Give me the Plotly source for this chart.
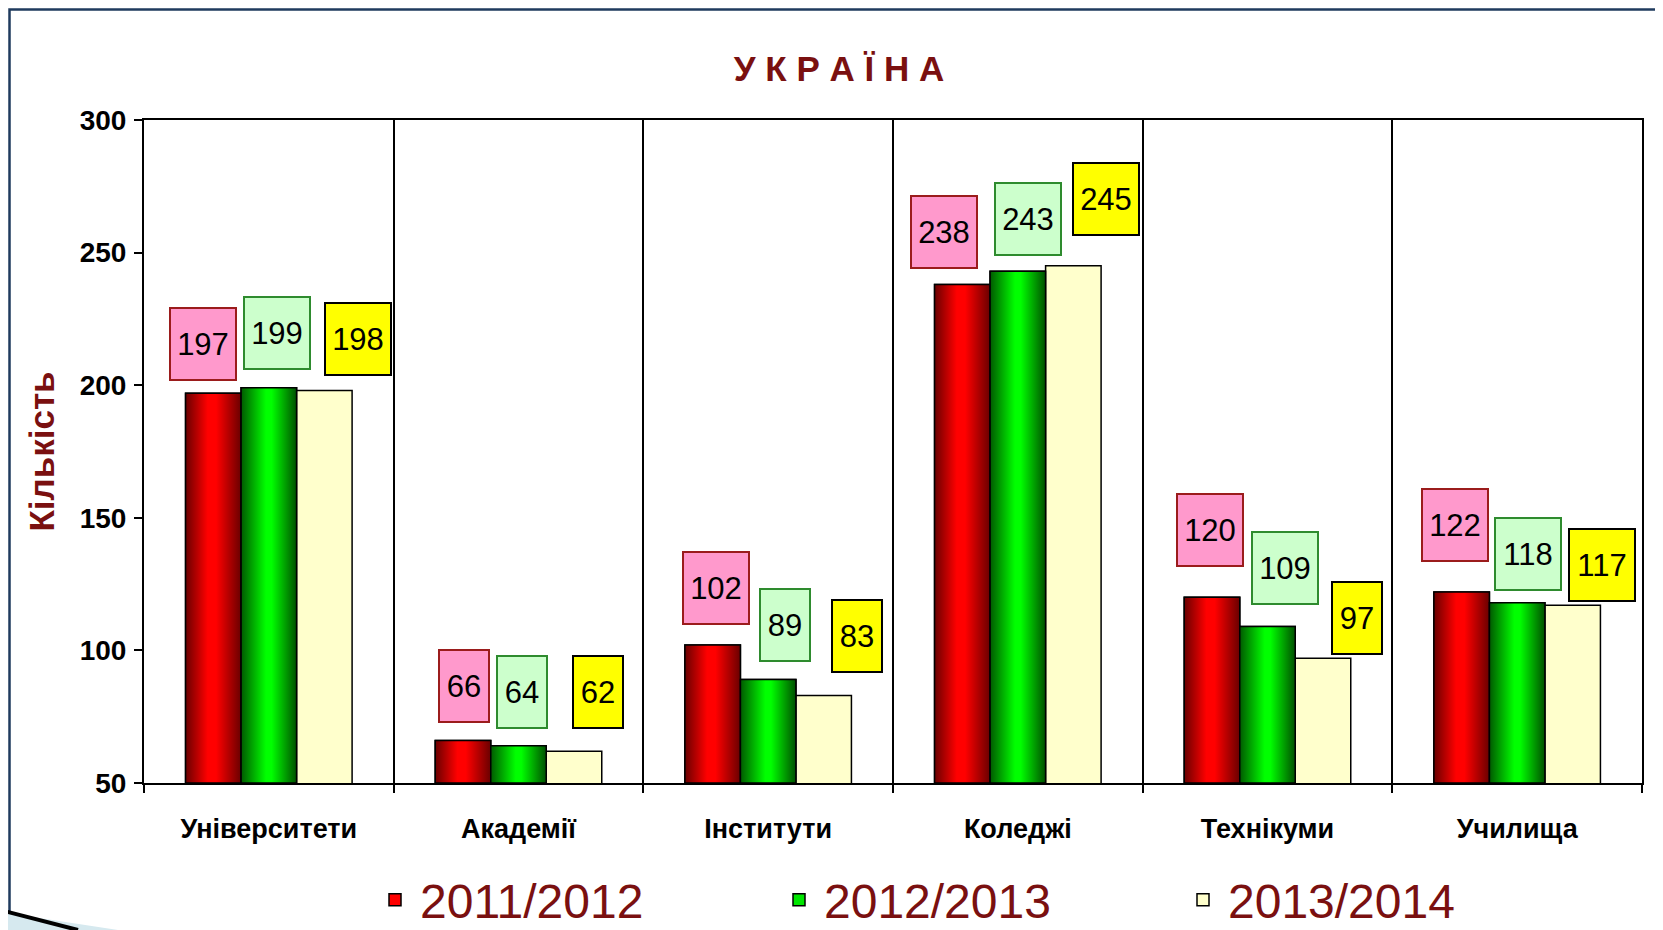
import plotly.graph_objects as go

# ---------------- data ----------------
categories = ["Університети", "Академії", "Інститути", "Коледжі", "Технікуми", "Училища"]
years = ["2011/2012", "2012/2013", "2013/2014"]
v_2011_2012 = [197, 66, 102, 238, 120, 122]
v_2012_2013 = [199, 64, 89, 243, 109, 118]
v_2013_2014 = [198, 62, 83, 245, 97, 117]
y_ticks = [50, 100, 150, 200, 250, 300]

series = [v_2011_2012, v_2012_2013, v_2013_2014]

# ---------------- styles ----------------
bar_colors = ["#ff0000", "#00e600", "#ffffcc"]
bar_shading = [
    [[0, "#6a0000"], [0.4, "#ff0000"], [0.55, "#ff0000"], [1, "#6a0000"]],
    [[0, "#005a00"], [0.45, "#00ff00"], [0.55, "#00ff00"], [1, "#005000"]],
    None,
]
box_bg = ["#ff99cc", "#ccffcc", "#ffff00"]
box_border = ["#9b1c1c", "#2e8b2e", "#000000"]
dark_red = "#7a1010"
frame_blue = "#1f3b5e"
sans = "Liberation Sans, Arial, sans-serif"

# per-label pixel shifts (dx, dy) of the value boxes, per series then category
label_shift = [
    [(-10, 49), (1, 55), (3, 57), (-18, 52), (-2, 67), (-7, 67)],
    [(8, 55), (3, 54), (17, 55), (10, 52), (17, 59), (11, 49)],
    [(34, 52), (24, 59), (33, 59), (33, 67), (34, 40), (29, 40)],
]

# figure geometry (the page adds an 8px body margin)
W, H = 1655, 922
L, R, T, B = 136, 21, 112, 147
PW, PH = W - L - R, H - T - B


def px_x(x):
    return (x - L) / PW


def px_y(y):
    return (T + PH - y) / PH


BARGAP = 0.333
bar_w = (1 - BARGAP) / 3
xs = list(range(len(categories)))
y_min, y_max = y_ticks[0], y_ticks[-1]

fig = go.Figure()
for j, (name, vals) in enumerate(zip(years, series)):
    fig.add_trace(go.Bar(
        x=xs, y=vals, name=name,
        marker=dict(color=bar_colors[j], line=dict(color="#000000", width=1.5)),
        hoverinfo="y+name",
    ))

# cylinder-like shading over the red and green bars
for j, vals in enumerate(series):
    if bar_shading[j] is None:
        continue
    for i, v in enumerate(vals):
        xc = i + (j - 1) * bar_w
        x0, x1 = xc - bar_w / 2, xc + bar_w / 2
        fig.add_trace(go.Scatter(
            x=[x0, x1, x1, x0, x0], y=[y_min, y_min, v, v, y_min],
            mode="lines", fill="toself",
            fillgradient=dict(type="horizontal", colorscale=bar_shading[j]),
            line=dict(color="#000000", width=1.5),
            showlegend=False, hoverinfo="skip",
        ))

annotations = []
for j, vals in enumerate(series):
    for i, v in enumerate(vals):
        dx, dy = label_shift[j][i]
        txt = str(v)
        w = 62 if len(txt) >= 3 else 46
        annotations.append(dict(
            x=i + (j - 1) * bar_w, y=v, xref="x", yref="y",
            text=txt, showarrow=False,
            xshift=dx, yshift=dy,
            font=dict(family=sans, size=31, color="#000000"),
            bgcolor=box_bg[j], bordercolor=box_border[j], borderwidth=2,
            width=w, height=68, borderpad=1,
            xanchor="center", yanchor="middle", valign="middle",
        ))

fig.update_layout(
    width=W, height=H,
    paper_bgcolor="#ffffff", plot_bgcolor="#ffffff",
    margin=dict(l=L, r=R, t=T, b=B, autoexpand=False),
    barmode="group", bargap=BARGAP, bargroupgap=0,
    title=dict(
        text="У К Р А Ї Н А", x=831 / W, xanchor="center",
        y=1 - 61 / H, yanchor="middle",
        font=dict(family=sans, size=35, color=dark_red, weight="bold"),
    ),
    legend=dict(
        orientation="h", x=px_x(362), xanchor="left",
        y=px_y(892), yanchor="middle",
        font=dict(family=sans, size=48, color=dark_red),
        entrywidth=349, entrywidthmode="pixels",
        itemwidth=40, bgcolor="rgba(0,0,0,0)",
    ),
    annotations=annotations,
    shapes=[
        dict(type="rect", xref="paper", yref="paper",
             x0=px_x(1.5), x1=px_x(1652), y0=px_y(H + 40), y1=px_y(1.5),
             line=dict(color=frame_blue, width=2.5), fillcolor="rgba(0,0,0,0)",
             layer="below"),
        # slide-template swoosh in the lower-left corner
        dict(type="path", xref="paper", yref="paper",
             path=(f"M {px_x(-8)},{px_y(904)} L {px_x(110)},{px_y(H)} "
                   f"L {px_x(-8)},{px_y(H)} Z"),
             line=dict(width=0), fillcolor="#d6e9ef", layer="above"),
        dict(type="line", xref="paper", yref="paper",
             x0=px_x(-8), y0=px_y(902), x1=px_x(70), y1=px_y(H),
             line=dict(color="#000000", width=4), layer="above"),
    ],
)

fig.update_xaxes(
    range=[-0.5, len(categories) - 0.5], automargin=False,
    tickmode="array", tickvals=xs, ticktext=categories,
    ticks="", showgrid=False, zeroline=False,
    tickfont=dict(family=sans, size=27, color="#000000", weight="bold"),
    ticklabelstandoff=21,
    showline=True, linecolor="#000000", linewidth=2, mirror=True,
    minor=dict(tick0=0.5, dtick=1, showgrid=True, gridcolor="#000000",
               gridwidth=1.5, ticks="outside", ticklen=8, tickcolor="#000000",
               tickwidth=1.5),
)
fig.update_yaxes(
    range=[y_min, y_max], tickmode="array", tickvals=y_ticks, automargin=False,
    ticks="outside", ticklen=8, tickwidth=1.5, tickcolor="#000000",
    showgrid=False, zeroline=False,
    showline=True, linecolor="#000000", linewidth=2, mirror=True,
    tickfont=dict(family=sans, size=28, color="#000000", weight="bold"),
    ticklabelstandoff=2,
    title=dict(text="Кількість", standoff=14,
               font=dict(family=sans, size=35, color=dark_red, weight="bold")),
)

fig.write_html("out.html")
